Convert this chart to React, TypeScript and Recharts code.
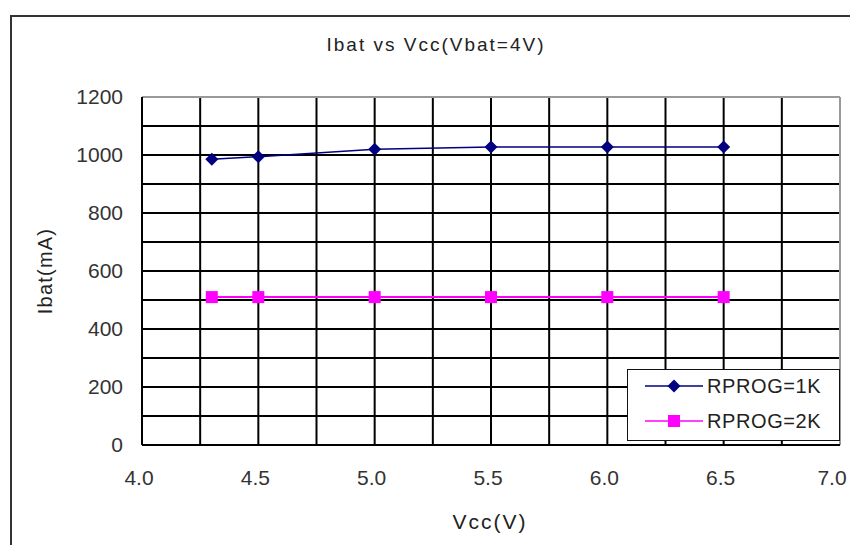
import React from "react";
import {
  LineChart,
  Line,
  XAxis,
  YAxis,
  CartesianGrid,
  ReferenceLine,
  Legend,
} from "recharts";

const vcc = [4.3, 4.5, 5.0, 5.5, 6.0, 6.5];
const ibat1k = [985, 994, 1020, 1028, 1028, 1028];
const ibat2k = [510, 510, 510, 510, 510, 510];

const xTicks = [4, 4.25, 4.5, 4.75, 5, 5.25, 5.5, 5.75, 6, 6.25, 6.5, 6.75, 7];
const yTicks = [0, 100, 200, 300, 400, 500, 600, 700, 800, 900, 1000, 1100, 1200];

const seriesNames = ["RPROG=1K", "RPROG=2K"];
const NAVY = "#000080";
const MAGENTA = "#FF00FF";
const FONT = "'Liberation Sans', Arial, sans-serif";

const data = vcc.map((v, i) => ({ vcc: v, r1k: ibat1k[i], r2k: ibat2k[i] }));

function Diamond(props: any) {
  const { cx, cy, key } = props;
  if (cx == null || cy == null) return <g key={key} />;
  const r = 6.5;
  return (
    <path
      key={key}
      d={`M${cx},${cy - r}L${cx + r},${cy}L${cx},${cy + r}L${cx - r},${cy}Z`}
      fill={NAVY}
    />
  );
}

function Square(props: any) {
  const { cx, cy, key } = props;
  if (cx == null || cy == null) return <g key={key} />;
  const r = 6;
  return <rect key={key} x={cx - r} y={cy - r} width={r * 2} height={r * 2} fill={MAGENTA} />;
}

// x tick: only every 0.5 gets a label; the last one is pulled in so it stays on the page
function XTick(props: any) {
  const { x, y, payload } = props;
  const v = payload.value as number;
  if (v % 0.5 !== 0) return <g />;
  const shift = v === 7 ? -8 : -3;
  return (
    <text
      x={x + shift}
      y={y}
      dy="0.71em"
      textAnchor="middle"
      fontSize={21}
      fill="#333"
      fontFamily={FONT}
    >
      {v.toFixed(1)}
    </text>
  );
}

function LegendBox() {
  const row = (name: string, color: string, marker: "diamond" | "square", top: number) => (
    <div style={{ position: "absolute", left: 0, top: top - 12, height: 24, width: 211 }}>
      <svg width={80} height={24} style={{ position: "absolute", left: 0, top: 0 }}>
        <line x1={17} y1={12} x2={75} y2={12} stroke={color} strokeWidth={1.5} />
        {marker === "diamond" ? (
          <path d="M46,5.5L52.5,12L46,18.5L39.5,12Z" fill={color} />
        ) : (
          <rect x={40} y={6} width={12} height={12} fill={color} />
        )}
      </svg>
      <span
        style={{
          position: "absolute",
          left: 79,
          top: 0,
          lineHeight: "24px",
          fontSize: 20,
          letterSpacing: 0.6,
          color: "#222",
          fontFamily: FONT,
          whiteSpace: "nowrap",
        }}
      >
        {name}
      </span>
    </div>
  );
  return (
    <div
      style={{
        position: "relative",
        width: 211,
        height: 70,
        border: "1.5px solid #111",
        background: "#fff",
      }}
    >
      {row(seriesNames[0], NAVY, "diamond", 16)}
      {row(seriesNames[1], MAGENTA, "square", 51)}
    </div>
  );
}

export default function App() {
  return (
    <div style={{ position: "absolute", left: 0, top: 0, width: 850, height: 545, background: "#fff" }}>
      <div
        style={{
          position: "absolute",
          left: 10,
          top: 15,
          width: 850,
          height: 545,
          borderLeft: "2px solid #333",
          borderTop: "2px solid #333",
        }}
      />
      <LineChart
        width={850}
        height={545}
        data={data}
        margin={{ top: 97, right: 10, bottom: 0, left: 0 }}
        style={{ position: "absolute", left: 0, top: 0 }}
      >
        <CartesianGrid stroke="#000" strokeWidth={2} />
        <XAxis
          dataKey="vcc"
          type="number"
          domain={[4, 7]}
          ticks={xTicks}
          interval={0}
          height={100}
          tickLine={false}
          tickSize={0}
          tickMargin={25}
          axisLine={{ stroke: "#000", strokeWidth: 2 }}
          tick={<XTick />}
        />
        <YAxis
          type="number"
          domain={[0, 1200]}
          ticks={yTicks}
          interval={0}
          width={142}
          tickLine={false}
          tickSize={0}
          tickMargin={19}
          axisLine={{ stroke: "#000", strokeWidth: 2 }}
          tick={{ fontSize: 21, fill: "#333", fontFamily: FONT }}
          tickFormatter={(v: number) => (v % 200 === 0 ? String(v) : "")}
        />
        <ReferenceLine y={1200} stroke="#999" strokeWidth={2} />
        <ReferenceLine x={7} stroke="#999" strokeWidth={2} />
        <Line
          dataKey="r1k"
          name={seriesNames[0]}
          stroke={NAVY}
          strokeWidth={1.5}
          dot={Diamond}
          activeDot={false}
          isAnimationActive={false}
        />
        <Line
          dataKey="r2k"
          name={seriesNames[1]}
          stroke={MAGENTA}
          strokeWidth={2}
          dot={Square}
          activeDot={false}
          isAnimationActive={false}
        />
        <Legend
          layout="vertical"
          align="center"
          verticalAlign="middle"
          content={() => <LegendBox />}
          wrapperStyle={{ position: "absolute", left: 627, top: 369, width: 214, height: 73 }}
        />
      </LineChart>
      <div
        style={{
          position: "absolute",
          left: 0,
          width: 872,
          top: 34,
          textAlign: "center",
          fontSize: 19,
          letterSpacing: 2,
          color: "#222",
          fontFamily: FONT,
          whiteSpace: "nowrap",
        }}
      >
        Ibat vs Vcc(Vbat=4V)
      </div>
      <div
        style={{
          position: "absolute",
          left: 440,
          width: 100,
          top: 510,
          textAlign: "center",
          fontSize: 21,
          letterSpacing: 2,
          color: "#222",
          fontFamily: FONT,
          whiteSpace: "nowrap",
        }}
      >
        Vcc(V)
      </div>
      <div
        style={{
          position: "absolute",
          left: 45,
          top: 271,
          transform: "translate(-50%, -50%) rotate(-90deg)",
          fontSize: 20,
          letterSpacing: 1.2,
          color: "#222",
          fontFamily: FONT,
          whiteSpace: "nowrap",
        }}
      >
        Ibat(mA)
      </div>
    </div>
  );
}
